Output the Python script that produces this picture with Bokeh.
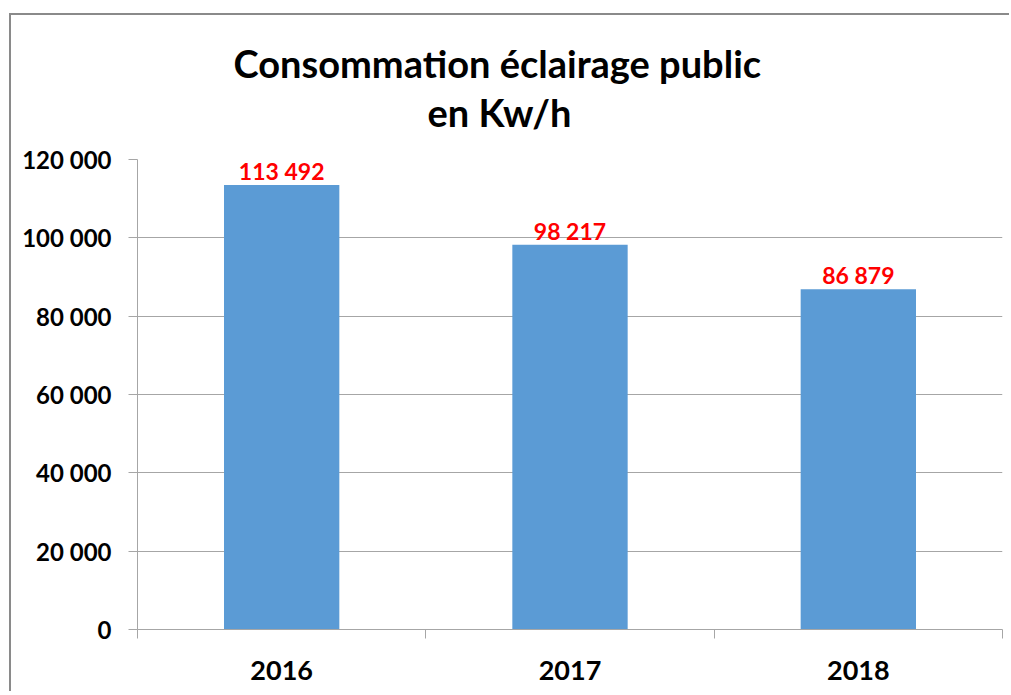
from bokeh.plotting import figure
from bokeh.models import FixedTicker, Range1d, Title, ColumnDataSource
from bokeh.core.properties import value
from bokeh.embed import file_html
from bokeh.resources import INLINE

categories = ["2016", "2017", "2018"]
consumption = [113492, 98217, 86879]
y_ticks = [0, 20000, 40000, 60000, 80000, 100000, 120000]
y_tick_labels = ["0", "20 000", "40 000", "60 000", "80 000", "100 000", "120 000"]
title_line1 = "Consommation  éclairage public"
title_line2 = "en Kw/h"

FONT = "Lato"
GRID = "#a6a6a6"

xpos = [i + 1 for i in range(len(categories))]
labels = [f"{v:,}".replace(",", " ") for v in consumption]
src = ColumnDataSource(dict(x=xpos, top=consumption, label=labels))

p = figure(width=1000, height=678, output_backend="svg", toolbar_location=None,
           x_range=Range1d(0.5, len(categories) + 0.5), y_range=Range1d(0, 120000),
           min_border_left=126, min_border_top=144, min_border_right=9, min_border_bottom=64,
           margin=(13, 0, 0, 9),
           styles={"border-top": "2px solid #8a8a8a", "border-left": "2px solid #8a8a8a"})
p.outline_line_color = None
p.background_fill_color = "white"
p.border_fill_color = "white"

p.vbar(x="x", top="top", width=0.4, source=src, color="#5b9bd5", line_color=None)
p.text(x="x", y="top", text="label", source=src, text_align="center", text_baseline="bottom",
       y_offset=0, text_color="#ff0000", text_font=value(FONT), text_font_style="bold",
       text_font_size="23px")

# y axis
p.yaxis.ticker = FixedTicker(ticks=y_ticks)
p.yaxis.major_label_overrides = {t: s for t, s in zip(y_ticks, y_tick_labels)}
p.yaxis.major_label_text_font = FONT
p.yaxis.major_label_text_font_style = "bold"
p.yaxis.major_label_text_font_size = "24px"
p.yaxis.major_label_text_color = "black"
p.yaxis.major_tick_out = 9
p.yaxis.major_tick_in = 0
p.yaxis.minor_tick_line_color = None
p.yaxis.major_label_standoff = 17
p.yaxis.axis_line_color = GRID
p.yaxis.major_tick_line_color = GRID

# x axis
p.xaxis.ticker = FixedTicker(ticks=xpos, minor_ticks=[0.5 + i for i in range(len(categories) + 1)])
p.xaxis.major_label_overrides = {x: c for x, c in zip(xpos, categories)}
p.xaxis.major_label_text_font = FONT
p.xaxis.major_label_text_font_style = "bold"
p.xaxis.major_label_text_font_size = "27px"
p.xaxis.major_label_text_color = "black"
p.xaxis.major_tick_line_color = None
p.xaxis.major_tick_out = 0
p.xaxis.minor_tick_out = 9
p.xaxis.minor_tick_in = 0
p.xaxis.minor_tick_line_color = GRID
p.xaxis.axis_line_color = GRID
p.xaxis.major_label_standoff = 22

p.xgrid.grid_line_color = None
p.ygrid.grid_line_color = GRID

p.add_layout(Title(text=title_line2, align="left", offset=290, standoff=50,
                   text_font=FONT, text_font_style="bold", text_font_size="38px",
                   text_color="black"), "above")
p.add_layout(Title(text=title_line1, align="left", offset=96, standoff=-49,
                   text_font=FONT, text_font_style="bold", text_font_size="38px",
                   text_color="black"), "above")

open("out.html", "w").write(file_html(p, INLINE))
